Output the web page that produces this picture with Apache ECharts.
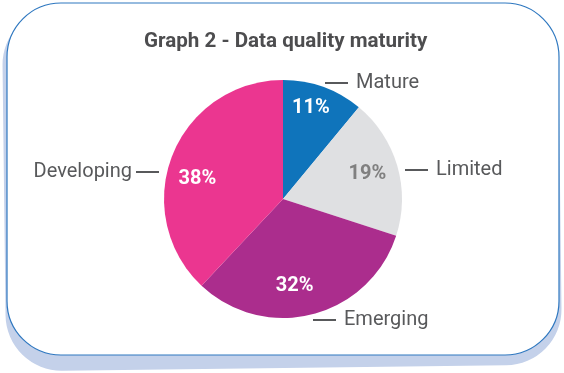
<!DOCTYPE html>
<html>
<head>
<meta charset="utf-8">
<script src="https://cdn.jsdelivr.net/npm/echarts@6/dist/echarts.min.js"></script>
<style>
  html, body { margin: 0; padding: 0; background: #fff; }
  #chart { width: 564px; height: 373px; }
</style>
</head>
<body>
<div id="chart"></div>
<script>
// data
var categories = ['Mature', 'Limited', 'Emerging', 'Developing']
var shares = [11, 19, 32, 38]
var sliceColors = ['#0f74bb', '#dfe0e2', '#ab2d8d', '#eb3690']
var pctColors = ['#ffffff', '#808080', '#ffffff', '#ffffff']

// layout tweaks for the labels
var outerLabelPos = [[325, 83], [405, 170], [313, 320], [159, 172]]
var innerNudge = [[-3, -5], [-3, 0], [-11, -1], [-1, 13]]

var center = [283, 199]
var radius = 119
var textGrey = '#58595b'

var chart = echarts.init(document.getElementById('chart'))

var outerData = categories.map(function(name, i) {
  return {
    name: name,
    value: shares[i],
    itemStyle: { color: sliceColors[i] }
  }
})

var innerData = categories.map(function(name, i) {
  return {
    name: name,
    value: shares[i],
    label: { color: pctColors[i] }
  }
})

chart.setOption({
  animation: false,
  title: {
    text: 'Graph 2 - Data quality maturity',
    left: 139,
    top: 26,
    textStyle: {
      color: '#4d4d4f',
      fontFamily: 'Roboto',
      fontWeight: 'bold',
      fontSize: 20.6
    }
  },
  graphic: [
    {
      // pale blue card shadow
      type: 'rect',
      z: -10,
      rotation: 0.012,
      originX: 282,
      originY: 186,
      shape: { x: 4, y: 6, width: 556, height: 362, r: 56 },
      style: { fill: '#c4d1ea' }
    },
    {
      type: 'rect',
      z: -9,
      shape: { x: 7, y: 3, width: 552, height: 352, r: 54 },
      style: { fill: '#ffffff', stroke: '#2f78c0', lineWidth: 1.2 }
    }
  ],
  series: [
    {
      type: 'pie',
      center: center,
      radius: radius,
      startAngle: 90,
      clockwise: true,
      silent: true,
      data: outerData,
      label: {
        show: true,
        position: 'outside',
        overflow: 'none',
        fontFamily: 'Roboto',
        fontSize: 20,
        color: textGrey,
        formatter: function(p) {
          if (p.dataIndex === 3) return '{left|' + p.name + '}{line| }'
          return '{line| }{name|' + p.name + '}'
        },
        rich: {
          name: { fontFamily: 'Roboto', fontSize: 20, color: textGrey, padding: [0, 0, 0, 8] },
          left: { fontFamily: 'Roboto', fontSize: 20, color: textGrey, padding: [0, 4, 0, 0] },
          line: { width: 23, height: 2, fontSize: 2, backgroundColor: textGrey }
        }
      },
      labelLine: { show: false },
      labelLayout: function(p) {
        var pos = outerLabelPos[p.dataIndex]
        return {
          x: pos[0],
          y: pos[1],
          align: p.dataIndex === 3 ? 'right' : 'left',
          verticalAlign: 'middle',
          width: 200
        }
      }
    },
    {
      type: 'pie',
      center: center,
      radius: [57, radius],
      startAngle: 90,
      clockwise: true,
      silent: true,
      data: innerData,
      itemStyle: { color: 'rgba(0,0,0,0)' },
      label: {
        show: true,
        position: 'inside',
        formatter: '{c}%',
        fontFamily: 'Roboto',
        fontWeight: 'bold',
        fontSize: 20
      },
      labelLine: { show: false },
      labelLayout: function(p) {
        var n = innerNudge[p.dataIndex]
        return { dx: n[0], dy: n[1] }
      }
    }
  ]
})
</script>
</body>
</html>
